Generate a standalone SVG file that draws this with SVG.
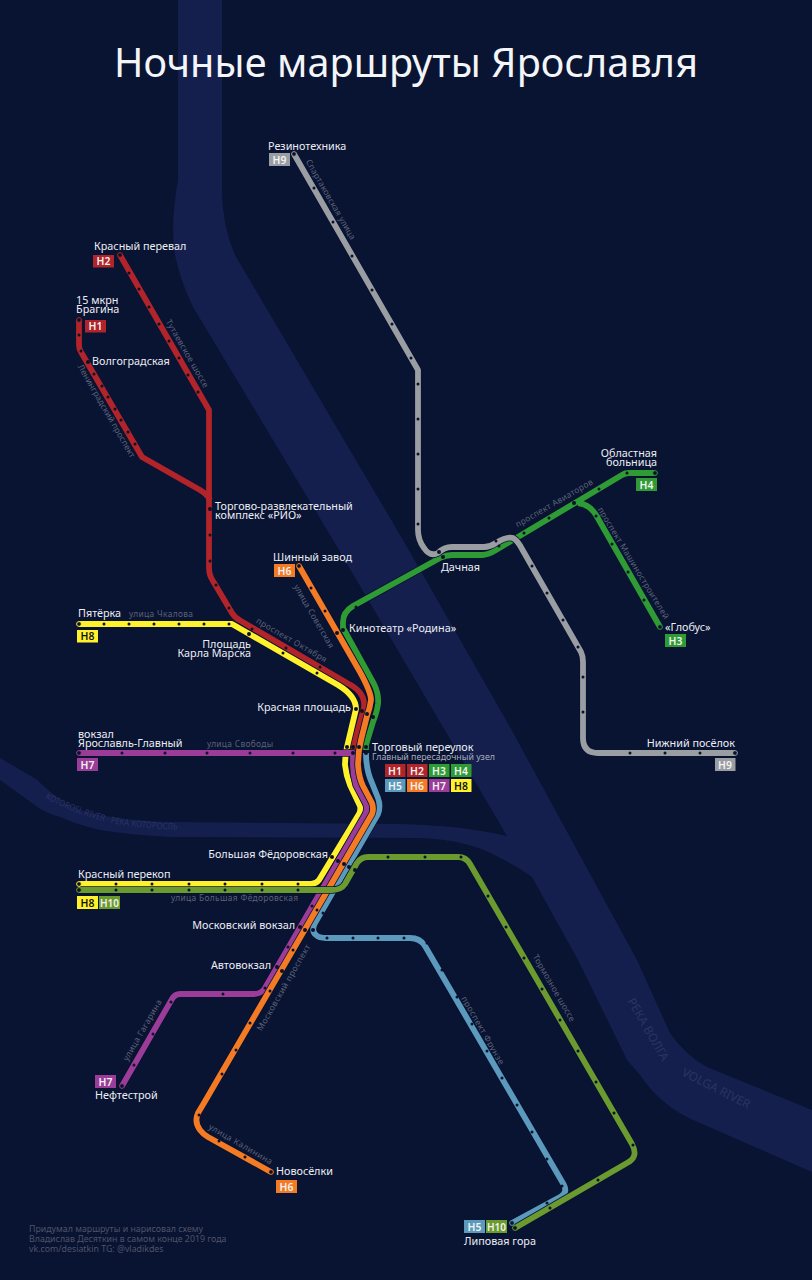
<svg xmlns="http://www.w3.org/2000/svg" width="812" height="1280" viewBox="0 0 812 1280">
<style>
text{font-family:"Noto Sans","Open Sans",sans-serif}
.t{font-size:10.8px;fill:#eceef4}
.e{text-anchor:end}
.st{font-size:8.4px;fill:#5c6278}
.ft{font-size:8.8px;fill:#4d5369}
.rv{font-size:12px;fill:#2a3462}
.b{font-size:10.4px;font-weight:600;text-anchor:middle;fill:#f2f2f2}
.c{fill:none;stroke:#091332;stroke-width:7.4;stroke-linejoin:round}
.l{fill:none;stroke-width:5.8;stroke-linejoin:round}
.s{fill:#0a1128}
.i{fill:#0a1128}
</style>
<rect width="812" height="1280" fill="#091332"/>
<g id="rivers">
<path d="M178,0L222,0L222,190Q222,225 235,255L403,540L510,727L637,960L670,1033Q685,1055 707,1067L812,1110L812,1172L693,1120Q660,1105 640,1075L627,1060L578,960L532,877Q515,865 500,858Q470,840 420,838L170,837Q130,835 100,830Q78,825 60,817Q45,813 36,806L0,780L0,758L36,779Q48,790 60,800Q78,811 100,815Q130,821 170,822L400,824Q460,825 507,836L333,540L193,307Q180,280 175,255Q170,225 178,180Z" fill="#141f4e"/>
<path id="kp" d="M45,798Q70,812 100,820Q130,829 190,830" fill="none"/>
<text class="rv" style="font-size:9px"><textPath href="#kp" textLength="138" lengthAdjust="spacingAndGlyphs">KOTOROSL RIVER · РЕКА КОТОРОСЛЬ</textPath></text>
<text class="rv" transform="translate(627,1001) rotate(60)">РЕКА ВОЛГА</text>
<text class="rv" transform="translate(681,1075) rotate(27)">VOLGA RIVER</text>
</g>
<text id="title" x="114" y="77" font-size="39.6" fill="#f4f5f8" textLength="584">Ночные маршруты Ярославля</text>
<g id="streets">
<text class="st" transform="translate(305.400,161.500) rotate(60)" textLength="91">Спартаковская улица</text>
<text class="st" transform="translate(165.400,321.500) rotate(60)" textLength="77">Тутаевское шоссе</text>
<text class="st" transform="translate(77.400,366.500) rotate(60)" textLength="106">Ленинградский проспект</text>
<text class="st" x="129" y="617" textLength="64">улица Чкалова</text>
<text class="st" transform="translate(255.500,622.600) rotate(30)" textLength="80">проспект Октября</text>
<text class="st" transform="translate(293.400,586.500) rotate(60)" textLength="72">улица Советская</text>
<text class="st" x="207" y="747" textLength="66">улица Свободы</text>
<text class="st" x="171" y="901" textLength="127">улица Большая Фёдоровская</text>
<text class="st" transform="translate(261.600,1031.500) rotate(-60)" textLength="98">Московский проспект</text>
<text class="st" transform="translate(127.600,1061.500) rotate(-60)" textLength="69">улица Гагарина</text>
<text class="st" transform="translate(208,1128.600) rotate(30)" textLength="72">улица Калинина</text>
<text class="st" transform="translate(461,998.500) rotate(60)" textLength="77">проспект Фрунзе</text>
<text class="st" transform="translate(532.400,956.500) rotate(60)" textLength="76">Тормозное шоссе</text>
<text class="st" transform="translate(517.500,527.600) rotate(-30)" textLength="88">проспект Авиаторов</text>
<text class="st" transform="translate(597.400,509.500) rotate(58.700)" textLength="129">проспект Машиностроителей</text>
</g>
<g id="connectors">
<g id="line-h5"><path class="c" d="M366,753Q366,770 372,783L378,798Q381,806 378,814L315,923Q311,931 316,935Q319,938 326,938L410,938Q420,938 425,946L564,1185Q568,1193 560,1197L512,1223"/><path class="l" stroke="#5b9abc" d="M366,753Q366,770 372,783L378,798Q381,806 378,814L315,923Q311,931 316,935Q319,938 326,938L410,938Q420,938 425,946L564,1185Q568,1193 560,1197L512,1223"/></g>
<g id="line-h4"><path class="c" d="M655,473L629,473Q625,473 622,475L496,550Q488,555 482,555L452,555Q446,555 440,558L353,606Q343,612 343,622L343,628L374,684Q379,694 378,704Q377,712 373,722L366,745L366,750"/><path class="l" stroke="#2f9b34" d="M655,473L629,473Q625,473 622,475L496,550Q488,555 482,555L452,555Q446,555 440,558L353,606Q343,612 343,622L343,628L374,684Q379,694 378,704Q377,712 373,722L366,745L366,750"/><path class="l" stroke="#2f9b34" d="M660,627L596,515Q589,504 578,503"/></g>
<g id="line-h9"><path class="c" d="M294,154L418,370L418,530Q418,540 424,548Q430,557 438,553Q444,547 452,547L484,547Q490,547 496,543Q507,536 513,538Q518,541 522,549L581,652Q583,656 583,662L583,738Q583,753 598,753L735,753"/><path class="l" stroke="#9a9ea2" d="M294,154L418,370L418,530Q418,540 424,548Q430,557 438,553Q444,547 452,547L484,547Q490,547 496,543Q507,536 513,538Q518,541 522,549L581,652Q583,656 583,662L583,738Q583,753 598,753L735,753"/></g>
<g id="line-h1"><path class="l" stroke="#b0242a" d="M79,320L79,345Q79,349 81,352L142,457L200,490Q207,494 210,500"/></g>
<g id="line-h2"><path class="c" d="M241,621L347,683Q366,692 364,708L353,747L353,751"/><path class="l" stroke="#b0242a" d="M120,255L209,410L209,568Q209,575 213,581L232,613Q235,618 241,621L347,683Q366,692 364,708L353,747L353,751"/></g>
<g id="line-h8"><path class="c" d="M79,624L232,624L338,685Q356,696 356,709L347,747Q345,755 345,765Q346,775 350,785L360,806Q361,810 359,814L319,880Q316,884 311,884L79,884"/><path class="l" stroke="#fff12b" d="M79,624L232,624L338,685Q356,696 356,709L347,747Q345,755 345,765Q346,775 350,785L360,806Q361,810 359,814L319,880Q316,884 311,884L79,884"/></g>
<g id="line-h7"><path class="c" d="M79,753L353,753L353,765Q353,775 356,785L366,804Q368,810 365,815L265,988Q261,994 254,994L180,994Q175,994 172,999L122,1086"/><path class="l" stroke="#9b3d98" d="M79,753L353,753L353,765Q353,775 356,785L366,804Q368,810 365,815L265,988Q261,994 254,994L180,994Q175,994 172,999L122,1086"/></g>
<g id="line-h6"><path class="c" d="M299,566L360,672Q371,692 371,700Q370,708 367,716L361,740Q358,752 358,765Q359,778 363,786L372,803Q374,809 372,814L204,1103L198,1113Q194,1122 200,1130Q203,1134 208,1137L271,1172"/><path class="l" stroke="#f47a24" d="M299,566L360,672Q371,692 371,700Q370,708 367,716L361,740Q358,752 358,765Q359,778 363,786L372,803Q374,809 372,814L204,1103L198,1113Q194,1122 200,1130Q203,1134 208,1137L271,1172"/></g>
<g id="line-h10"><path class="c" d="M79,890L332,890Q341,890 345,884L357,863Q361,857 368,857L458,857Q466,857 470,864L632,1144Q639,1157 627,1163L515,1228"/><path class="l" stroke="#6b9a2e" d="M79,890L332,890Q341,890 345,884L357,863Q361,857 368,857L458,857Q466,857 470,864L632,1144Q639,1157 627,1163L515,1228"/></g>
</g>
<g id="stops" class="s">
<circle cx="129" cy="273" r="1.5"/><circle cx="139" cy="289" r="1.5"/><circle cx="149" cy="307" r="1.5"/><circle cx="159" cy="324" r="1.5"/><circle cx="169" cy="341" r="1.5"/><circle cx="179" cy="358" r="1.5"/><circle cx="188" cy="375" r="1.5"/><circle cx="198" cy="392" r="1.5"/>
<circle cx="210" cy="535" r="1.5"/><circle cx="210" cy="561" r="1.5"/><circle cx="216" cy="585" r="1.5"/><circle cx="229" cy="608" r="1.5"/><circle cx="252" cy="629" r="1.5"/><circle cx="286" cy="648" r="1.5"/><circle cx="320" cy="667" r="1.5"/>
<circle cx="79" cy="335" r="1.5"/><circle cx="81" cy="351" r="1.5"/><circle cx="94" cy="374" r="1.5"/><circle cx="102" cy="386" r="1.5"/><circle cx="108" cy="397" r="1.5"/><circle cx="115" cy="409" r="1.5"/><circle cx="121" cy="420" r="1.5"/><circle cx="128" cy="432" r="1.5"/><circle cx="135" cy="444" r="1.5"/>
<circle cx="104" cy="624" r="1.5"/><circle cx="129" cy="624" r="1.5"/><circle cx="154" cy="624" r="1.5"/><circle cx="179" cy="624" r="1.5"/><circle cx="204" cy="624" r="1.5"/><circle cx="229" cy="624" r="1.5"/><circle cx="283" cy="653" r="1.5"/><circle cx="317" cy="673" r="1.5"/>
<circle cx="122" cy="753" r="1.5"/><circle cx="165" cy="753" r="1.5"/><circle cx="207" cy="753" r="1.5"/><circle cx="250" cy="753" r="1.5"/><circle cx="293" cy="753" r="1.5"/><circle cx="335" cy="753" r="1.5"/>
<circle cx="311" cy="588" r="1.5"/><circle cx="325" cy="611" r="1.5"/><circle cx="356" cy="607" r="1.5"/>
<circle cx="499" cy="546" r="1.5"/><circle cx="524" cy="533" r="1.5"/><circle cx="549" cy="518" r="1.5"/><circle cx="599" cy="489" r="1.5"/><circle cx="627" cy="473" r="1.5"/>
<circle cx="596" cy="516" r="1.5"/><circle cx="612" cy="544" r="1.5"/><circle cx="628" cy="572" r="1.5"/><circle cx="644" cy="600" r="1.5"/>
<circle cx="314" cy="188" r="1.5"/><circle cx="333" cy="222" r="1.5"/><circle cx="352" cy="256" r="1.5"/><circle cx="372" cy="290" r="1.5"/><circle cx="392" cy="324" r="1.5"/><circle cx="411" cy="358" r="1.5"/><circle cx="418" cy="384" r="1.5"/><circle cx="418" cy="419" r="1.5"/><circle cx="418" cy="454" r="1.5"/><circle cx="418" cy="489" r="1.5"/><circle cx="418" cy="524" r="1.5"/><circle cx="496" cy="541" r="1.5"/><circle cx="532" cy="566" r="1.5"/><circle cx="547" cy="593" r="1.5"/><circle cx="563" cy="620" r="1.5"/><circle cx="578" cy="647" r="1.5"/><circle cx="583" cy="677" r="1.5"/><circle cx="583" cy="712" r="1.5"/><circle cx="630" cy="753" r="1.5"/><circle cx="665" cy="753" r="1.5"/><circle cx="700" cy="753" r="1.5"/>
<circle cx="116" cy="884" r="1.5"/><circle cx="152" cy="884" r="1.5"/><circle cx="189" cy="884" r="1.5"/><circle cx="225" cy="884" r="1.5"/><circle cx="262" cy="884" r="1.5"/><circle cx="298" cy="884" r="1.5"/>
<circle cx="116" cy="890" r="1.5"/><circle cx="152" cy="890" r="1.5"/><circle cx="189" cy="890" r="1.5"/><circle cx="225" cy="890" r="1.5"/><circle cx="262" cy="890" r="1.5"/><circle cx="298" cy="890" r="1.5"/>
<circle cx="312" cy="906" r="1.5"/><circle cx="317" cy="910" r="1.5"/><circle cx="323" cy="913" r="1.5"/>
<circle cx="288" cy="947" r="1.5"/><circle cx="293" cy="950" r="1.5"/><circle cx="265" cy="988" r="1.5"/><circle cx="270" cy="991" r="1.5"/><circle cx="223" cy="994" r="1.5"/><circle cx="171" cy="1002" r="1.5"/><circle cx="153" cy="1034" r="1.5"/><circle cx="134" cy="1065" r="1.5"/>
<circle cx="250" cy="1023" r="1.5"/><circle cx="236" cy="1050" r="1.5"/><circle cx="222" cy="1074" r="1.5"/><circle cx="199" cy="1115" r="1.5"/><circle cx="219" cy="1141" r="1.5"/><circle cx="245" cy="1157" r="1.5"/>
<circle cx="388" cy="857" r="1.5"/><circle cx="425" cy="857" r="1.5"/><circle cx="461" cy="857" r="1.5"/><circle cx="488" cy="896" r="1.5"/><circle cx="506" cy="927" r="1.5"/><circle cx="524" cy="958" r="1.5"/><circle cx="542" cy="989" r="1.5"/><circle cx="560" cy="1020" r="1.5"/><circle cx="578" cy="1051" r="1.5"/><circle cx="596" cy="1082" r="1.5"/><circle cx="614" cy="1113" r="1.5"/><circle cx="633" cy="1145" r="1.5"/><circle cx="598" cy="1180" r="1.5"/><circle cx="550" cy="1208" r="1.5"/>
<circle cx="327" cy="938" r="1.5"/><circle cx="353" cy="938" r="1.5"/><circle cx="378" cy="938" r="1.5"/><circle cx="404" cy="938" r="1.5"/><circle cx="427" cy="943" r="1.5"/><circle cx="442" cy="970" r="1.5"/><circle cx="457" cy="997" r="1.5"/><circle cx="472" cy="1024" r="1.5"/><circle cx="487" cy="1051" r="1.5"/><circle cx="502" cy="1078" r="1.5"/><circle cx="517" cy="1105" r="1.5"/><circle cx="532" cy="1132" r="1.5"/><circle cx="547" cy="1159" r="1.5"/><circle cx="562" cy="1186" r="1.5"/><circle cx="547" cy="1203" r="1.5"/>
</g>
<g id="n-rezinotekhnika"><circle cx="294" cy="154" r="2.4" fill="#0a1128" stroke="#9a9ea2"/><text class="t" x="268" y="150">Резинотехника</text><rect x="269" y="153" width="21" height="13" fill="#9a9ea2"/><text class="b" x="279.500" y="163.500">Н9</text></g>
<g id="n-krasny-pereval"><circle cx="120" cy="255" r="2.4" fill="#0a1128" stroke="#b0242a"/><text class="t" x="94" y="250">Красный перевал</text><rect x="93" y="255" width="21" height="12.500" fill="#b0242a"/><text class="b" x="103.500" y="265">Н2</text></g>
<g id="n-bragina"><circle cx="79" cy="320" r="2.4" fill="#0a1128" stroke="#b0242a"/><text class="t" x="76" y="304">15 мкрн</text><text class="t" x="76" y="313">Брагина</text><rect x="85" y="320" width="21" height="12.500" fill="#b0242a"/><text class="b" x="95.500" y="330">Н1</text></g>
<g id="n-volgogradskaya"><circle class="i" cx="88" cy="362" r="2"/><text class="t" x="92" y="365">Волгоградская</text></g>
<g id="n-rio"><circle class="i" cx="210" cy="509" r="2"/><text class="t" x="215" y="510">Торгово-развлекательный</text><text class="t" x="215" y="519">комплекс «РИО»</text></g>
<g id="n-shinny"><circle cx="299" cy="566" r="2.4" fill="#0a1128" stroke="#f47a24"/><text class="t" x="273" y="561">Шинный завод</text><rect x="274" y="564" width="21" height="13" fill="#f47a24"/><text class="b" x="284.500" y="574.500">Н6</text></g>
<g id="n-pyaterka"><circle cx="79" cy="624" r="2.4" fill="#0a1128" stroke="#fff12b"/><text class="t" x="78" y="617">Пятёрка</text><rect x="77" y="630" width="21" height="12.500" fill="#fff12b"/><text class="b" x="87.500" y="640" style="fill:#111">Н8</text></g>
<g id="n-marksa"><circle class="i" cx="249" cy="634" r="2"/><text class="t e" x="251" y="648">Площадь</text><text class="t e" x="251" y="657">Карла Марска</text></g>
<g id="n-rodina"><circle class="i" cx="337" cy="633" r="2"/><circle class="i" cx="343" cy="630" r="2"/><text class="t" x="349" y="632">Кинотеатр «Родина»</text></g>
<g id="n-krasnaya"><circle class="i" cx="356" cy="709" r="2"/><circle class="i" cx="362" cy="711" r="2"/><circle class="i" cx="367" cy="714" r="2"/><circle class="i" cx="373" cy="717" r="2"/><text class="t e" x="351" y="711">Красная площадь</text></g>
<g id="n-torgovy"><circle class="i" cx="347" cy="747" r="2"/><circle class="i" cx="353" cy="747" r="2"/><circle class="i" cx="359" cy="747" r="2"/><circle class="i" cx="366" cy="747" r="2"/><circle class="i" cx="353" cy="753" r="2"/><circle class="i" cx="366" cy="753" r="2"/>
<text class="t" x="372" y="751">Торговый переулок</text><text x="372" y="760" font-size="8.8" fill="#a9adbb">Главный пересадочный узел</text>
<rect x="385" y="764" width="20.500" height="13" fill="#b0242a"/><text class="b" x="395" y="774.500">Н1</text>
<rect x="407" y="764" width="20.500" height="13" fill="#b0242a"/><text class="b" x="417" y="774.500">Н2</text>
<rect x="429" y="764" width="20.500" height="13" fill="#2f9b34"/><text class="b" x="439" y="774.500">Н3</text>
<rect x="451" y="764" width="20.500" height="13" fill="#2f9b34"/><text class="b" x="461" y="774.500">Н4</text>
<rect x="385" y="779" width="20.500" height="13" fill="#5b9abc"/><text class="b" x="395" y="789.500">Н5</text>
<rect x="407" y="779" width="20.500" height="13" fill="#f47a24"/><text class="b" x="417" y="789.500">Н6</text>
<rect x="429" y="779" width="20.500" height="13" fill="#9b3d98"/><text class="b" x="439" y="789.500">Н7</text>
<rect x="451" y="779" width="20.500" height="13" fill="#fff12b"/><text class="b" x="461" y="789.500" style="fill:#111">Н8</text></g>
<g id="n-dachnaya"><circle class="i" cx="439" cy="552" r="2"/><circle class="i" cx="443" cy="557" r="2"/><text class="t" x="441" y="571">Дачная</text></g>
<g id="n-oblastnaya"><circle cx="655" cy="473" r="2.4" fill="#0a1128" stroke="#2f9b34"/><text class="t e" x="657" y="457">Областная</text><text class="t e" x="657" y="466">больница</text><rect x="636" y="478" width="21" height="13" fill="#2f9b34"/><text class="b" x="646.500" y="488.500">Н4</text></g>
<g id="n-interchange"><circle class="i" cx="574" cy="503" r="2"/></g>
<g id="n-globus"><circle cx="660" cy="627" r="2.4" fill="#0a1128" stroke="#2f9b34"/><text class="t" x="665" y="631">«Глобус»</text><rect x="665" y="634" width="21" height="13" fill="#2f9b34"/><text class="b" x="675.500" y="644.500">Н3</text></g>
<g id="n-nizhny"><circle cx="735" cy="753" r="2.4" fill="#0a1128" stroke="#9a9ea2"/><text class="t e" x="735" y="747">Нижний посёлок</text><rect x="715" y="758" width="20.500" height="13" fill="#9a9ea2"/><text class="b" x="725" y="768.500">Н9</text></g>
<g id="n-vokzal"><circle cx="79" cy="753" r="2.4" fill="#0a1128" stroke="#9b3d98"/><text class="t" x="78" y="737.500">вокзал</text><text class="t" x="78" y="747">Ярославль-Главный</text><rect x="77" y="758" width="21" height="13" fill="#9b3d98"/><text class="b" x="87.500" y="768.500">Н7</text></g>
<g id="n-perekop"><circle cx="79" cy="884" r="2.4" fill="#0a1128" stroke="#fff12b"/><circle cx="79" cy="890" r="2.400" fill="#0a1128" stroke="#6b9a2e"/><text class="t" x="78" y="878">Красный перекоп</text><rect x="77" y="896" width="21" height="13" fill="#fff12b"/><text class="b" x="87.500" y="906.500" style="fill:#111">Н8</text><rect x="99" y="896" width="21" height="13" fill="#6b9a2e"/><text class="b" x="109.500" y="906.500" style="font-size:10px">Н10</text></g>
<g id="n-fedorovskaya"><circle class="i" cx="332" cy="857" r="2"/><circle class="i" cx="338" cy="861" r="2"/><circle class="i" cx="344" cy="864" r="2"/><circle class="i" cx="349" cy="867" r="2"/><circle class="i" cx="355" cy="870" r="2"/><text class="t e" x="328" y="858">Большая Фёдоровская</text></g>
<g id="n-moskovsky"><circle class="i" cx="300" cy="927" r="2"/><circle class="i" cx="305" cy="930" r="2"/><circle class="i" cx="313" cy="930" r="2"/><text class="t e" x="295" y="929">Московский вокзал</text></g>
<g id="n-avtovokzal"><circle class="i" cx="277" cy="967" r="2"/><circle class="i" cx="282" cy="971" r="2"/><text class="t e" x="271" y="969">Автовокзал</text></g>
<g id="n-neftestroy"><circle cx="122" cy="1086" r="2.4" fill="#0a1128" stroke="#9b3d98"/><text class="t" x="95" y="1099">Нефтестрой</text><rect x="95" y="1075" width="21" height="13" fill="#9b3d98"/><text class="b" x="105.500" y="1085.500">Н7</text></g>
<g id="n-novoselki"><circle cx="271" cy="1172" r="2.4" fill="#0a1128" stroke="#f47a24"/><text class="t" x="276" y="1175">Новосёлки</text><rect x="276" y="1180" width="21" height="13" fill="#f47a24"/><text class="b" x="286.500" y="1190.500">Н6</text></g>
<g id="n-lipovaya"><circle cx="512" cy="1223" r="2.4" fill="#0a1128" stroke="#5b9abc"/><circle cx="515" cy="1228" r="2.400" fill="#0a1128" stroke="#6b9a2e"/><rect x="464" y="1220" width="21" height="13" fill="#5b9abc"/><text class="b" x="474.500" y="1230.500">Н5</text><rect x="486" y="1220" width="21" height="13" fill="#6b9a2e"/><text class="b" x="496.500" y="1230.500" style="font-size:10px">Н10</text><text class="t" x="464" y="1245">Липовая гора</text></g>
<g id="credits"><text class="ft" x="29" y="1232">Придумал маршруты и нарисовал схему</text><text class="ft" x="29" y="1242">Владислав Десяткин в самом конце 2019 года</text><text class="ft" x="29" y="1252">vk.com/desiatkin TG: @vladikdes</text></g>
</svg>
